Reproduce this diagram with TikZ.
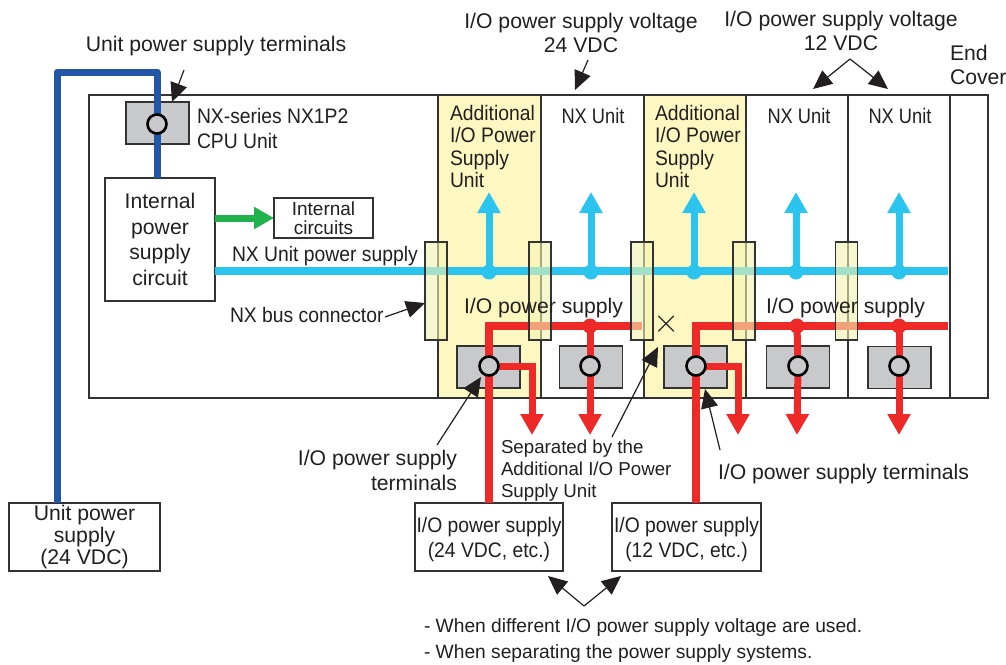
\documentclass[tikz,border=0pt]{standalone}
\usepackage{fontspec}
\setmainfont{Liberation Sans}
\newfontfamily\cnd[FakeStretch=0.92]{Liberation Sans}
\newfontfamily\cndb[FakeStretch=0.87]{Liberation Sans}
\usetikzlibrary{arrows.meta,calc}
\definecolor{cy}{HTML}{2BC4EE}
\definecolor{rd}{HTML}{EE2A29}
\definecolor{db}{HTML}{2356A6}
\definecolor{gn}{HTML}{22B24C}
\definecolor{gy}{HTML}{C8C9CB}
\definecolor{yl}{HTML}{FDF8C2}
\definecolor{cn}{HTML}{F3F3B0}
\definecolor{ln}{HTML}{333333}
\definecolor{tx}{HTML}{231F20}
\tikzset{
  x=1pt,y=-1pt,
  txt/.style 2 args={inner sep=0pt,outer sep=0pt,text=tx,font=\fontsize{#1}{#2}\selectfont},
  txc/.style 2 args={inner sep=0pt,outer sep=0pt,text=tx,font=\cnd\fontsize{#1}{#2}\selectfont},
  big/.style={txt={21.2}{#1},align=center},
  big/.default=24.5,
  lft/.style={txt={21.2}{24.5},anchor=west,align=left},
  cnl/.style={txc={21}{#1},anchor=west,align=left},
  cnl/.default=24.5,
  cnc/.style={txc={21}{25},align=center},
  nxu/.style={inner sep=0pt,outer sep=0pt,text=tx,font=\cndb\fontsize{21}{25}\selectfont},
  box/.style={draw=ln,line width=1.4pt,fill=white,inner sep=0pt,outer sep=0pt},
  term/.style={draw=ln,line width=1.4pt,fill=gy,minimum width=63pt,minimum height=42pt,inner sep=0pt,outer sep=0pt},
  dot/.style={circle,draw=black,line width=2.6pt,fill=gy,minimum size=19pt,inner sep=0pt,outer sep=0pt},
  conn/.style={draw=ln,line width=1.4pt,fill=cn,fill opacity=.6,draw opacity=1,minimum width=22pt,minimum height=98pt,inner sep=0pt,outer sep=0pt},
  unit/.style={draw=ln,line width=1.2pt},
  cyl/.style={cy,line width=8pt},
  rdl/.style={rd,line width=8pt},
  cyarr/.style={draw=cy,line width=7pt,-{Triangle[length=21pt,width=22pt,fill=cy]}},
  rdarr/.style={draw=rd,line width=7pt,-{Triangle[length=21pt,width=22pt,fill=rd]}},
  grarr/.style={draw=gn,line width=7pt,-{Triangle[length=20pt,width=21pt,fill=gn]}},
  lead/.style={draw=tx,line width=1.2pt,-{Triangle[length=19pt,width=17pt,fill=tx]}},
  cyd/.style={circle,fill=cy,minimum size=15pt,inner sep=0pt},
  rdd/.style={circle,fill=rd,minimum size=15pt,inner sep=0pt},
}
\begin{document}
\begin{tikzpicture}
\useasboundingbox (0,0) rectangle (1006,664);
\fill[white] (0,0) rectangle (1006,664);
% unit columns
\fill[yl] (438,95) rectangle (541,398);
\fill[yl] (644,95) rectangle (746,398);
\draw[unit] (89,95) rectangle (988,398);
\foreach \xx in {438,541,644,746,848,950} \draw[unit] (\xx,95) -- (\xx,398);
% boxes
\node[box,minimum width=110pt,minimum height=123pt,align=center] (ips) at (160,239.5) {};
\node[box,minimum width=99pt,minimum height=40pt] (ic) at (323.5,218) {};
\node[box,minimum width=151pt,minimum height=68pt] (ups) at (84.5,537) {};
\node[box,minimum width=148pt,minimum height=68pt] (psa) at (489,537) {};
\node[box,minimum width=149pt,minimum height=68pt] (psb) at (686.5,537) {};
% terminals
\node[term] (tcpu) at (157.5,123) {};
\node[term] (t1) at (488.5,367) {};
\node[term] (t2) at (591,367) {};
\node[term] (t3) at (695.5,367) {};
\node[term] (t4) at (798,367) {};
\node[term] (t5) at (899.5,367.5) {};
\coordinate (c0) at (157,124);
\coordinate (c1) at (489,366);
\coordinate (c2) at (590,366);
\coordinate (c3) at (696,366);
\coordinate (c4) at (798,366);
\coordinate (c5) at (899,366);
% unit power wiring
\coordinate (bx0) at (57,72);
\coordinate (bx1) at (157,72);
\draw[db,line width=7pt,line join=round] (ups.north -| bx0) -- (bx0) -- (bx1) -- (ips.north -| bx1);
% green
\draw[grarr] (ips.east |- ic.west) -- (ic.west);
% cyan bus
\coordinate (cyE) at (948,271);
\draw[cyl] (ips.east |- cyE) -- (cyE);
\foreach \xx/\nn in {489/a,591/b,694/c,796/d,899/e}{
  \node[cyd] (cd\nn) at (\xx,272) {};
  \coordinate (ct\nn) at (\xx,192);
  \draw[cyarr] (cd\nn.center) -- (ct\nn);
}
% red wiring
\coordinate (rA) at (642,326);
\coordinate (rB) at (948,326);
\draw[rdl,line join=miter] (psa.north -| c1) -- (c1 |- rA) -- (rA);
\draw[rdl,line join=miter] (psb.north -| c3) -- (c3 |- rB) -- (rB);
\foreach \nn/\xx/\cc in {a/590/c2,b/797/c4,c/899/c5}{
  \node[rdd] (rd\nn) at (\xx,326) {};
  \draw[rdl,line width=7pt] (rd\nn.center) -- (\cc);
  \coordinate (rt\nn) at (\xx,435);
  \draw[rdarr] (\cc) -- (rt\nn);
}
\coordinate (b1) at (532,435);
\coordinate (b3) at (738,435);
\draw[rdarr,line join=miter] (c1) -- (b1 |- c1) -- (b1);
\draw[rdarr,line join=miter] (c3) -- (b3 |- c3) -- (b3);
% connectors
\foreach \xx/\nn in {436/1,540/2,642/3,744/4,846.5/5}
  \node[conn] (bus\nn) at (\xx,291) {};
% terminal circles
\node[dot] (d0) at (c0) {};
\node[dot] (d1) at (c1) {};
\node[dot] (d2) at (c2) {};
\node[dot] (d3) at (c3) {};
\node[dot] (d4) at (c4) {};
\node[dot] (d5) at (c5) {};
% texts
\node[big] (tUnitTerm) at (216,46) {Unit power supply terminals};
\node[big] (tV24) at (581,33) {I/O power supply voltage\\24 VDC};
\node[big] (tV12) at (841,31) {I/O power supply voltage\\12 VDC};
\node[lft] (tEnd) at (950,65) {End\\Cover};
\node[cnl] (tCpu) at (197,128.5) {NX-series NX1P2\\CPU Unit};
\node[big=25.7] (tIps) at (ips.center) {Internal\\power\\supply\\circuit};
\node[txt={19}{19.5},align=center] (tIc) at (ic.center) {Internal\\circuits};
\node[cnl] (tNxp) at (232,256.5) {NX Unit power supply};
\node[cnl] (tBus) at (230,315) {NX bus connector};
\node[lft] (tIo1) at (464,308) {I/O power supply};
\node[lft] (tIo2) at (766,308) {I/O power supply};
\node[cnl=22.3] (tAdd1) at (450,146.5) {Additional\\I/O Power\\Supply\\Unit};
\node[cnl=22.3] (tAdd2) at (655,146.5) {Additional\\I/O Power\\Supply\\Unit};
\node[nxu] (tN1) at (593,116) {NX Unit};
\node[nxu] (tN2) at (799,116) {NX Unit};
\node[nxu] (tN3) at (900,116) {NX Unit};
\node[inner sep=0pt,text=tx,font=\fontsize{24}{24}\selectfont] (tX) at (667,324) {\scalebox{1.35}{$\times$}};
\node[big,align=right,anchor=east] (tTermL) at (457,470.5) {I/O power supply\\terminals};
\node[txt={18.7}{22},anchor=west,align=left] (tSep) at (501,470.5) {Separated by the\\Additional I/O Power\\Supply Unit};
\node[lft] (tTermR) at (718,474) {I/O power supply terminals};
\node[big=22] (tUps) at (ups.center) {Unit power\\supply\\(24 VDC)};
\node[cnc] (tPsa) at (489,539.5) {I/O power supply\\(24 VDC, etc.)};
\node[cnc] (tPsb) at (686.5,539.5) {I/O power supply\\(12 VDC, etc.)};
\node[txt={19.2}{26},anchor=west,align=left] (tWhen) at (424,641) {- When different I/O power supply voltage are used.\\- When separating the power supply systems.};
% leader arrows
\coordinate (l1) at (184,70);  \coordinate (l1t) at (172,102);
\coordinate (l2) at (385,317); \coordinate (l2t) at (425,303);
\coordinate (l3) at (612,437); \coordinate (l3t) at (658,347);
\coordinate (l4) at (437,445); \coordinate (l4t) at (481,377);
\coordinate (l5) at (720,450); \coordinate (l5t) at (705,389);
\coordinate (l6) at (588,60);  \coordinate (l6t) at (575,90);
\draw[lead] (l1) -- (l1t);
\draw[lead] (l2) -- (l2t);
\draw[lead] (l3) -- (l3t);
\draw[lead] (l4) -- (l4t);
\draw[lead] (l5) -- (l5t);
\draw[lead] (l6) -- (l6t);
\coordinate (ap1) at (850,59); \coordinate (ap1a) at (813,89); \coordinate (ap1b) at (888,89);
\draw[lead] (ap1) -- (ap1a);
\draw[lead] (ap1) -- (ap1b);
\coordinate (ap2) at (584,606); \coordinate (ap2a) at (548,576); \coordinate (ap2b) at (621,576);
\draw[lead] (ap2) -- (ap2a);
\draw[lead] (ap2) -- (ap2b);
\end{tikzpicture}
\end{document}
